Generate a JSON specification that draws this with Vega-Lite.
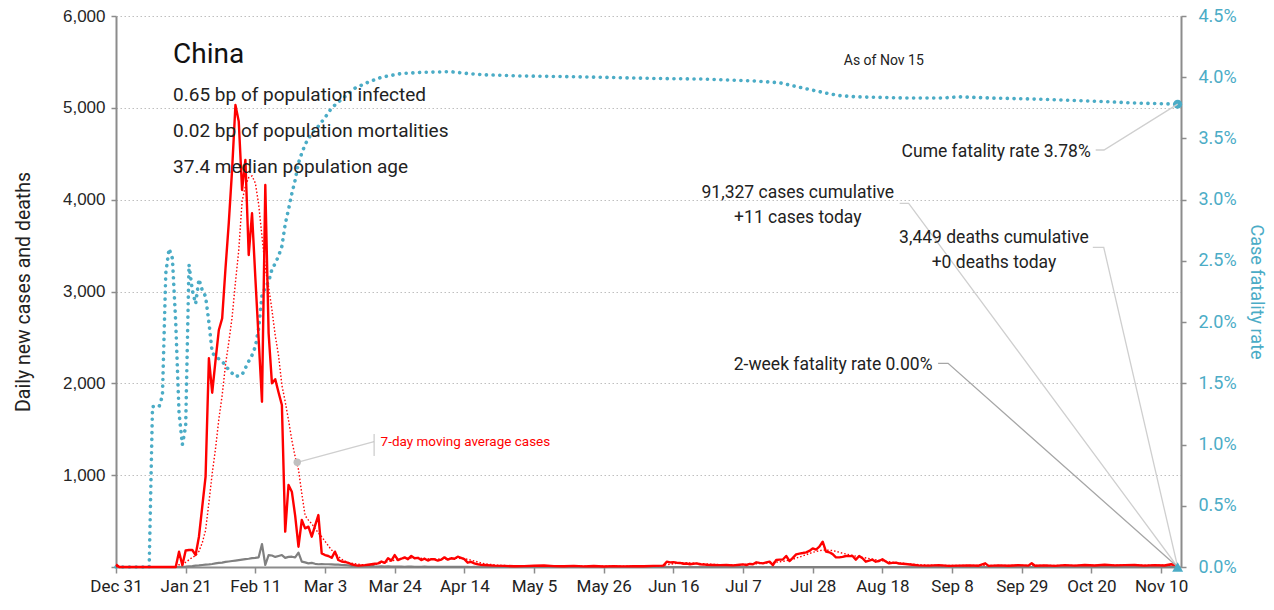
{
"$schema": "https://vega.github.io/schema/vega-lite/v6.json",
"width": 1065, "height": 551,
"autosize": {"type": "none"},
"padding": {"left": 116, "top": 16, "right": 93, "bottom": 43},
"background": "white",
"config": {"view": {"stroke": null}},
"datasets": {
"cfr": [
{"date":"2019-12-31","cfr":0},{"date":"2020-01-10","cfr":0},{"date":"2020-01-11","cfr":0.0131},{"date":"2020-01-13","cfr":0.0131},
{"date":"2020-01-14","cfr":0.014},{"date":"2020-01-15","cfr":0.024},{"date":"2020-01-16","cfr":0.026},{"date":"2020-01-17","cfr":0.0252},
{"date":"2020-01-18","cfr":0.02},{"date":"2020-01-19","cfr":0.0126},{"date":"2020-01-20","cfr":0.01},{"date":"2020-01-21","cfr":0.0115},
{"date":"2020-01-22","cfr":0.0247},{"date":"2020-01-23","cfr":0.0226},{"date":"2020-01-24","cfr":0.0215},{"date":"2020-01-25","cfr":0.0235},
{"date":"2020-01-26","cfr":0.0226},{"date":"2020-01-27","cfr":0.0221},{"date":"2020-01-28","cfr":0.02},{"date":"2020-01-29","cfr":0.0175},
{"date":"2020-01-30","cfr":0.0172},{"date":"2020-01-31","cfr":0.017},{"date":"2020-02-01","cfr":0.0168},{"date":"2020-02-03","cfr":0.0161},
{"date":"2020-02-05","cfr":0.01555},{"date":"2020-02-07","cfr":0.0157},{"date":"2020-02-09","cfr":0.0168},{"date":"2020-02-10","cfr":0.0173},
{"date":"2020-02-11","cfr":0.018},{"date":"2020-02-12","cfr":0.0195},{"date":"2020-02-13","cfr":0.0222},{"date":"2020-02-14","cfr":0.0228},
{"date":"2020-02-15","cfr":0.0233},{"date":"2020-02-16","cfr":0.0243},{"date":"2020-02-17","cfr":0.0248},{"date":"2020-02-18","cfr":0.0254},
{"date":"2020-02-19","cfr":0.0262},{"date":"2020-02-20","cfr":0.028},{"date":"2020-02-21","cfr":0.0292},{"date":"2020-02-22","cfr":0.0305},
{"date":"2020-02-23","cfr":0.0316},{"date":"2020-02-24","cfr":0.033},{"date":"2020-02-25","cfr":0.0338},{"date":"2020-02-26","cfr":0.0345},
{"date":"2020-02-27","cfr":0.035},{"date":"2020-02-28","cfr":0.0354},{"date":"2020-03-01","cfr":0.036},{"date":"2020-03-03","cfr":0.0367},
{"date":"2020-03-05","cfr":0.0375},{"date":"2020-03-08","cfr":0.0382},{"date":"2020-03-12","cfr":0.0391},{"date":"2020-03-16","cfr":0.0396},
{"date":"2020-03-20","cfr":0.04},{"date":"2020-03-26","cfr":0.0403},{"date":"2020-04-01","cfr":0.0404},{"date":"2020-04-10","cfr":0.04045},
{"date":"2020-04-15","cfr":0.0403},{"date":"2020-04-20","cfr":0.0402},{"date":"2020-05-01","cfr":0.0401},{"date":"2020-05-15","cfr":0.04005},
{"date":"2020-05-25","cfr":0.04},{"date":"2020-06-10","cfr":0.0399},{"date":"2020-06-25","cfr":0.03985},{"date":"2020-07-10","cfr":0.0397},
{"date":"2020-07-18","cfr":0.03955},{"date":"2020-07-22","cfr":0.0393},{"date":"2020-07-27","cfr":0.039},{"date":"2020-08-01","cfr":0.0387},
{"date":"2020-08-05","cfr":0.0385},{"date":"2020-08-10","cfr":0.0384},{"date":"2020-08-25","cfr":0.0383},{"date":"2020-09-05","cfr":0.0383},
{"date":"2020-09-10","cfr":0.0384},{"date":"2020-09-20","cfr":0.0383},{"date":"2020-10-05","cfr":0.0382},{"date":"2020-10-15","cfr":0.0381},
{"date":"2020-10-25","cfr":0.038},{"date":"2020-11-01","cfr":0.0379},{"date":"2020-11-08","cfr":0.03785},{"date":"2020-11-15","cfr":0.0378}
],
"daily": [
{"date":"2019-12-31","cases":27,"deaths":0},{"date":"2020-01-01","cases":0,"deaths":0},{"date":"2020-01-10","cases":0,"deaths":0},{"date":"2020-01-18","cases":0,"deaths":0},
{"date":"2020-01-19","cases":167,"deaths":0},{"date":"2020-01-20","cases":20,"deaths":2},{"date":"2020-01-21","cases":180,"deaths":4},{"date":"2020-01-22","cases":185,"deaths":8},
{"date":"2020-01-23","cases":185,"deaths":10},{"date":"2020-01-24","cases":130,"deaths":15},{"date":"2020-01-25","cases":330,"deaths":18},{"date":"2020-01-26","cases":657,"deaths":22},
{"date":"2020-01-27","cases":983,"deaths":25},{"date":"2020-01-28","cases":2273,"deaths":28},{"date":"2020-01-29","cases":1898,"deaths":33},{"date":"2020-01-30","cases":2250,"deaths":40},
{"date":"2020-01-31","cases":2581,"deaths":45},{"date":"2020-02-01","cases":2708,"deaths":48},{"date":"2020-02-02","cases":3250,"deaths":55},{"date":"2020-02-03","cases":3750,"deaths":60},
{"date":"2020-02-04","cases":4330,"deaths":65},{"date":"2020-02-05","cases":5031,"deaths":70},{"date":"2020-02-06","cases":4850,"deaths":75},{"date":"2020-02-07","cases":4105,"deaths":80},
{"date":"2020-02-08","cases":4432,"deaths":85},{"date":"2020-02-09","cases":3397,"deaths":90},{"date":"2020-02-10","cases":3852,"deaths":97},{"date":"2020-02-11","cases":3150,"deaths":100},
{"date":"2020-02-12","cases":2480,"deaths":105},{"date":"2020-02-13","cases":1800,"deaths":250},{"date":"2020-02-14","cases":4160,"deaths":22},{"date":"2020-02-15","cases":2545,"deaths":130},
{"date":"2020-02-16","cases":2000,"deaths":125},{"date":"2020-02-17","cases":2044,"deaths":110},{"date":"2020-02-18","cases":1900,"deaths":120},{"date":"2020-02-19","cases":1764,"deaths":130},
{"date":"2020-02-20","cases":385,"deaths":100},{"date":"2020-02-21","cases":893,"deaths":110},{"date":"2020-02-22","cases":820,"deaths":112},{"date":"2020-02-23","cases":560,"deaths":105},
{"date":"2020-02-24","cases":221,"deaths":156},{"date":"2020-02-25","cases":512,"deaths":58},{"date":"2020-02-26","cases":421,"deaths":50},{"date":"2020-02-27","cases":439,"deaths":40},
{"date":"2020-02-28","cases":330,"deaths":45},{"date":"2020-02-29","cases":450,"deaths":35},{"date":"2020-03-01","cases":566,"deaths":30},{"date":"2020-03-02","cases":149,"deaths":32},
{"date":"2020-03-03","cases":130,"deaths":30},{"date":"2020-03-04","cases":120,"deaths":30},{"date":"2020-03-05","cases":100,"deaths":28},{"date":"2020-03-06","cases":167,"deaths":25},
{"date":"2020-03-07","cases":76,"deaths":25},{"date":"2020-03-08","cases":60,"deaths":22},{"date":"2020-03-09","cases":55,"deaths":20},{"date":"2020-03-10","cases":45,"deaths":17},
{"date":"2020-03-11","cases":30,"deaths":12},{"date":"2020-03-12","cases":20,"deaths":10},{"date":"2020-03-13","cases":15,"deaths":8},{"date":"2020-03-14","cases":18,"deaths":10},
{"date":"2020-03-15","cases":20,"deaths":12},{"date":"2020-03-16","cases":25,"deaths":10},{"date":"2020-03-17","cases":30,"deaths":12},{"date":"2020-03-18","cases":35,"deaths":8},
{"date":"2020-03-19","cases":40,"deaths":5},{"date":"2020-03-20","cases":60,"deaths":6},{"date":"2020-03-21","cases":45,"deaths":5},{"date":"2020-03-22","cases":95,"deaths":6},
{"date":"2020-03-23","cases":70,"deaths":5},{"date":"2020-03-24","cases":130,"deaths":4},{"date":"2020-03-25","cases":76,"deaths":5},{"date":"2020-03-26","cases":90,"deaths":4},
{"date":"2020-03-27","cases":105,"deaths":3},{"date":"2020-03-28","cases":85,"deaths":5},{"date":"2020-03-29","cases":120,"deaths":4},{"date":"2020-03-30","cases":95,"deaths":3},
{"date":"2020-03-31","cases":100,"deaths":2},{"date":"2020-04-01","cases":76,"deaths":3},{"date":"2020-04-02","cases":90,"deaths":4},{"date":"2020-04-03","cases":70,"deaths":2},
{"date":"2020-04-04","cases":85,"deaths":3},{"date":"2020-04-05","cases":84,"deaths":2},{"date":"2020-04-06","cases":70,"deaths":1},{"date":"2020-04-07","cases":80,"deaths":2},
{"date":"2020-04-08","cases":105,"deaths":1},{"date":"2020-04-09","cases":80,"deaths":2},{"date":"2020-04-10","cases":95,"deaths":1},{"date":"2020-04-11","cases":90,"deaths":2},
{"date":"2020-04-12","cases":112,"deaths":1},{"date":"2020-04-13","cases":100,"deaths":2},{"date":"2020-04-14","cases":85,"deaths":1},{"date":"2020-04-15","cases":47,"deaths":1},
{"date":"2020-04-16","cases":55,"deaths":0},{"date":"2020-04-17","cases":40,"deaths":1},{"date":"2020-04-18","cases":30,"deaths":0},{"date":"2020-04-19","cases":25,"deaths":0},
{"date":"2020-04-20","cases":22,"deaths":0},{"date":"2020-04-23","cases":15,"deaths":0},{"date":"2020-04-26","cases":12,"deaths":0},{"date":"2020-04-29","cases":8,"deaths":0},
{"date":"2020-05-02","cases":10,"deaths":0},{"date":"2020-05-05","cases":14,"deaths":0},{"date":"2020-05-08","cases":16,"deaths":0},{"date":"2020-05-11","cases":10,"deaths":0},
{"date":"2020-05-14","cases":8,"deaths":0},{"date":"2020-05-17","cases":12,"deaths":0},{"date":"2020-05-20","cases":7,"deaths":0},{"date":"2020-05-23","cases":11,"deaths":0},
{"date":"2020-05-26","cases":6,"deaths":0},{"date":"2020-05-29","cases":9,"deaths":0},{"date":"2020-06-01","cases":7,"deaths":0},{"date":"2020-06-04","cases":10,"deaths":0},
{"date":"2020-06-07","cases":8,"deaths":0},{"date":"2020-06-10","cases":12,"deaths":0},{"date":"2020-06-13","cases":15,"deaths":0},{"date":"2020-06-14","cases":58,"deaths":0},
{"date":"2020-06-15","cases":50,"deaths":0},{"date":"2020-06-16","cases":52,"deaths":0},{"date":"2020-06-17","cases":47,"deaths":0},{"date":"2020-06-18","cases":44,"deaths":0},
{"date":"2020-06-19","cases":35,"deaths":0},{"date":"2020-06-20","cases":38,"deaths":0},{"date":"2020-06-21","cases":30,"deaths":0},{"date":"2020-06-22","cases":35,"deaths":0},
{"date":"2020-06-23","cases":40,"deaths":0},{"date":"2020-06-24","cases":30,"deaths":0},{"date":"2020-06-25","cases":28,"deaths":0},{"date":"2020-06-26","cases":25,"deaths":0},
{"date":"2020-06-28","cases":22,"deaths":0},{"date":"2020-06-30","cases":20,"deaths":0},{"date":"2020-07-02","cases":22,"deaths":0},{"date":"2020-07-04","cases":18,"deaths":0},
{"date":"2020-07-06","cases":25,"deaths":0},{"date":"2020-07-07","cases":28,"deaths":0},{"date":"2020-07-08","cases":22,"deaths":0},{"date":"2020-07-09","cases":33,"deaths":0},
{"date":"2020-07-10","cases":30,"deaths":0},{"date":"2020-07-11","cases":51,"deaths":0},{"date":"2020-07-12","cases":45,"deaths":0},{"date":"2020-07-13","cases":40,"deaths":0},
{"date":"2020-07-14","cases":50,"deaths":0},{"date":"2020-07-15","cases":58,"deaths":0},{"date":"2020-07-16","cases":20,"deaths":0},{"date":"2020-07-17","cases":76,"deaths":0},
{"date":"2020-07-18","cases":80,"deaths":0},{"date":"2020-07-19","cases":82,"deaths":0},{"date":"2020-07-20","cases":120,"deaths":0},{"date":"2020-07-21","cases":65,"deaths":0},
{"date":"2020-07-22","cases":100,"deaths":0},{"date":"2020-07-23","cases":138,"deaths":0},{"date":"2020-07-24","cases":145,"deaths":0},{"date":"2020-07-25","cases":152,"deaths":0},
{"date":"2020-07-26","cases":160,"deaths":0},{"date":"2020-07-27","cases":175,"deaths":0},{"date":"2020-07-28","cases":203,"deaths":0},{"date":"2020-07-29","cases":190,"deaths":0},
{"date":"2020-07-30","cases":221,"deaths":0},{"date":"2020-07-31","cases":276,"deaths":0},{"date":"2020-08-01","cases":167,"deaths":0},{"date":"2020-08-02","cases":160,"deaths":0},
{"date":"2020-08-03","cases":140,"deaths":0},{"date":"2020-08-04","cases":105,"deaths":0},{"date":"2020-08-05","cases":105,"deaths":0},{"date":"2020-08-06","cases":110,"deaths":0},
{"date":"2020-08-07","cases":120,"deaths":0},{"date":"2020-08-08","cases":118,"deaths":0},{"date":"2020-08-09","cases":120,"deaths":0},{"date":"2020-08-10","cases":80,"deaths":0},
{"date":"2020-08-11","cases":120,"deaths":0},{"date":"2020-08-12","cases":95,"deaths":0},{"date":"2020-08-13","cases":58,"deaths":0},{"date":"2020-08-14","cases":70,"deaths":0},
{"date":"2020-08-15","cases":80,"deaths":0},{"date":"2020-08-16","cases":58,"deaths":0},{"date":"2020-08-17","cases":65,"deaths":0},{"date":"2020-08-18","cases":84,"deaths":0},
{"date":"2020-08-19","cases":60,"deaths":0},{"date":"2020-08-20","cases":40,"deaths":0},{"date":"2020-08-21","cases":45,"deaths":0},{"date":"2020-08-22","cases":47,"deaths":0},
{"date":"2020-08-23","cases":38,"deaths":0},{"date":"2020-08-25","cases":33,"deaths":0},{"date":"2020-08-27","cases":25,"deaths":0},{"date":"2020-08-29","cases":18,"deaths":0},
{"date":"2020-09-01","cases":15,"deaths":0},{"date":"2020-09-04","cases":20,"deaths":0},{"date":"2020-09-07","cases":12,"deaths":0},{"date":"2020-09-10","cases":15,"deaths":0},
{"date":"2020-09-13","cases":18,"deaths":0},{"date":"2020-09-16","cases":14,"deaths":0},{"date":"2020-09-18","cases":40,"deaths":0},{"date":"2020-09-19","cases":12,"deaths":0},
{"date":"2020-09-22","cases":18,"deaths":0},{"date":"2020-09-25","cases":14,"deaths":0},{"date":"2020-09-28","cases":20,"deaths":0},{"date":"2020-10-01","cases":15,"deaths":0},
{"date":"2020-10-02","cases":40,"deaths":0},{"date":"2020-10-03","cases":14,"deaths":0},{"date":"2020-10-06","cases":18,"deaths":0},{"date":"2020-10-09","cases":12,"deaths":0},
{"date":"2020-10-12","cases":20,"deaths":0},{"date":"2020-10-15","cases":15,"deaths":0},{"date":"2020-10-18","cases":22,"deaths":0},{"date":"2020-10-21","cases":17,"deaths":0},
{"date":"2020-10-24","cases":25,"deaths":0},{"date":"2020-10-27","cases":18,"deaths":0},{"date":"2020-10-30","cases":20,"deaths":0},{"date":"2020-11-02","cases":22,"deaths":0},
{"date":"2020-11-05","cases":15,"deaths":0},{"date":"2020-11-08","cases":20,"deaths":0},{"date":"2020-11-11","cases":16,"deaths":0},{"date":"2020-11-13","cases":30,"deaths":0},
{"date":"2020-11-14","cases":25,"deaths":0},{"date":"2020-11-15","cases":11,"deaths":0}
],
"avg": [
{"date":"2019-12-31","avg":4},{"date":"2020-01-06","avg":4},{"date":"2020-01-07","avg":0},{"date":"2020-01-18","avg":0},
{"date":"2020-01-19","avg":24},{"date":"2020-01-20","avg":27},{"date":"2020-01-21","avg":52},{"date":"2020-01-22","avg":78},
{"date":"2020-01-23","avg":105},{"date":"2020-01-24","avg":124},{"date":"2020-01-25","avg":170},{"date":"2020-01-26","avg":263},
{"date":"2020-01-27","avg":400},{"date":"2020-01-28","avg":700},{"date":"2020-01-29","avg":1020},{"date":"2020-01-30","avg":1290},
{"date":"2020-01-31","avg":1610},{"date":"2020-02-01","avg":1870},{"date":"2020-02-02","avg":2200},{"date":"2020-02-03","avg":2450},
{"date":"2020-02-04","avg":2720},{"date":"2020-02-05","avg":3100},{"date":"2020-02-06","avg":3450},{"date":"2020-02-07","avg":3980},
{"date":"2020-02-08","avg":4150},{"date":"2020-02-09","avg":4240},{"date":"2020-02-10","avg":4258},{"date":"2020-02-11","avg":4180},
{"date":"2020-02-12","avg":3950},{"date":"2020-02-13","avg":3600},{"date":"2020-02-14","avg":3250},{"date":"2020-02-15","avg":3050},
{"date":"2020-02-16","avg":2800},{"date":"2020-02-17","avg":2520},{"date":"2020-02-18","avg":2300},{"date":"2020-02-19","avg":1980},
{"date":"2020-02-20","avg":1800},{"date":"2020-02-21","avg":1600},{"date":"2020-02-22","avg":1380},{"date":"2020-02-23","avg":1200},
{"date":"2020-02-24","avg":1060},{"date":"2020-02-25","avg":800},{"date":"2020-02-26","avg":560},{"date":"2020-02-27","avg":510},
{"date":"2020-02-28","avg":470},{"date":"2020-02-29","avg":420},{"date":"2020-03-01","avg":370},{"date":"2020-03-02","avg":330},
{"date":"2020-03-03","avg":280},{"date":"2020-03-04","avg":230},{"date":"2020-03-05","avg":185},{"date":"2020-03-06","avg":150},
{"date":"2020-03-07","avg":115},{"date":"2020-03-08","avg":85},{"date":"2020-03-09","avg":65},{"date":"2020-03-10","avg":50},
{"date":"2020-03-12","avg":35},{"date":"2020-03-15","avg":22},{"date":"2020-03-18","avg":28},{"date":"2020-03-21","avg":50},
{"date":"2020-03-24","avg":75},{"date":"2020-03-27","avg":95},{"date":"2020-03-30","avg":100},{"date":"2020-04-02","avg":92},
{"date":"2020-04-05","avg":85},{"date":"2020-04-08","avg":88},{"date":"2020-04-11","avg":95},{"date":"2020-04-14","avg":92},
{"date":"2020-04-17","avg":65},{"date":"2020-04-20","avg":35},{"date":"2020-04-24","avg":20},{"date":"2020-04-28","avg":13},
{"date":"2020-05-05","avg":12},{"date":"2020-05-15","avg":10},{"date":"2020-05-25","avg":9},{"date":"2020-06-05","avg":9},
{"date":"2020-06-12","avg":12},{"date":"2020-06-15","avg":30},{"date":"2020-06-18","avg":47},{"date":"2020-06-21","avg":44},
{"date":"2020-06-25","avg":35},{"date":"2020-06-30","avg":25},{"date":"2020-07-05","avg":23},{"date":"2020-07-10","avg":32},
{"date":"2020-07-15","avg":45},{"date":"2020-07-19","avg":60},{"date":"2020-07-22","avg":85},{"date":"2020-07-25","avg":120},
{"date":"2020-07-28","avg":160},{"date":"2020-07-31","avg":185},{"date":"2020-08-03","avg":180},{"date":"2020-08-06","avg":150},
{"date":"2020-08-09","avg":125},{"date":"2020-08-12","avg":105},{"date":"2020-08-15","avg":85},{"date":"2020-08-18","avg":68},
{"date":"2020-08-21","avg":52},{"date":"2020-08-25","avg":38},{"date":"2020-08-30","avg":22},{"date":"2020-09-05","avg":16},
{"date":"2020-09-20","avg":18},{"date":"2020-10-05","avg":17},{"date":"2020-10-20","avg":18},{"date":"2020-11-05","avg":19},
{"date":"2020-11-15","avg":20}
],
"cfrEnd": [{"date":"2020-11-15","cfr":0.0378}],
"endTriangle": [{"date":"2020-11-15","value":0}],
"titleText": [{"date":"2020-01-17T05:00:00Z","value":5570,"text":"China"}],
"infoText": [
{"date":"2020-01-17T05:00:00Z","value":5137,"text":"0.65 bp of population infected"},
{"date":"2020-01-17T05:00:00Z","value":4745,"text":"0.02 bp of population mortalities"},
{"date":"2020-01-17T05:00:00Z","value":4358,"text":"37.4 median population age"}
],
"asOf": [{"date":"2020-08-18T10:00:00Z","value":5510,"text":"As of Nov 15"}],
"rightText": [
{"date":"2020-10-19T19:00:00Z","value":4519,"text":"Cume fatality rate 3.78%"},
{"date":"2020-09-02T02:00:00Z","value":2200,"text":"2-week fatality rate 0.00%"}
],
"centerText": [
{"date":"2020-07-23T12:00:00Z","value":4073,"text":"91,327 cases cumulative"},
{"date":"2020-07-23T12:00:00Z","value":3800,"text":"+11 cases today"},
{"date":"2020-09-20T15:00:00Z","value":3583,"text":"3,449 deaths cumulative"},
{"date":"2020-09-20T15:00:00Z","value":3310,"text":"+0 deaths today"}
],
"redText": [{"date":"2020-03-19T18:00:00Z","value":1357,"text":"7-day moving average cases"}],
"redTick": [{"date":"2020-03-17T19:00:00Z","value":1448,"value2":1209}],
"maDot": [{"date":"2020-02-23T15:00:00Z","value":1140}],
"leadersLight": [
{"id":"cume","date":"2020-10-21T07:00:00Z","value":4541},
{"id":"cume","date":"2020-10-23T19:00:00Z","value":4541},
{"id":"cume","date":"2020-11-15","value":5040},
{"id":"cases","date":"2020-08-23T05:00:00Z","value":3960},
{"id":"cases","date":"2020-08-25T22:00:00Z","value":3960},
{"id":"cases","date":"2020-11-15","value":0},
{"id":"deaths","date":"2020-10-20T10:00:00Z","value":3481},
{"id":"deaths","date":"2020-10-23T17:00:00Z","value":3481},
{"id":"deaths","date":"2020-11-15","value":0},
{"id":"ma","date":"2020-02-23T15:00:00Z","value":1140},
{"id":"ma","date":"2020-03-17T19:00:00Z","value":1364}
],
"leaderDark": [
{"id":"fr","date":"2020-09-03T19:00:00Z","value":2218},
{"id":"fr","date":"2020-09-06T19:00:00Z","value":2218},
{"id":"fr","date":"2020-11-15","value":0}
]
},
"encoding": {
"x": {"field": "date", "type": "temporal", "scale": {"type": "utc", "domain": [1577750400000, 1605484800000]},
"axis": {"orient": "bottom",
"values": [
{"year":2019,"month":12,"date":31,"utc":true},{"year":2020,"month":1,"date":21,"utc":true},{"year":2020,"month":2,"date":11,"utc":true},{"year":2020,"month":3,"date":3,"utc":true},
{"year":2020,"month":3,"date":24,"utc":true},{"year":2020,"month":4,"date":14,"utc":true},{"year":2020,"month":5,"date":5,"utc":true},{"year":2020,"month":5,"date":26,"utc":true},
{"year":2020,"month":6,"date":16,"utc":true},{"year":2020,"month":7,"date":7,"utc":true},{"year":2020,"month":7,"date":28,"utc":true},{"year":2020,"month":8,"date":18,"utc":true},
{"year":2020,"month":9,"date":8,"utc":true},{"year":2020,"month":9,"date":29,"utc":true},{"year":2020,"month":10,"date":20,"utc":true},{"year":2020,"month":11,"date":10,"utc":true}],
"format": "%b %-d", "title": null, "grid": false, "labelOverlap": false, "labelFlush": false,
"domainColor": "#8c8c8c", "domainWidth": 2, "tickColor": "#8c8c8c", "tickSize": 6, "tickWidth": 1.5,
"labelFont": "Roboto", "labelFontSize": 17, "labelColor": "#222222", "labelPadding": 5}}
},
"layer": [
{
"data": {"name": "cfr"},
"mark": {"type": "line", "color": "#4bacc6", "strokeWidth": 3.6, "strokeDash": [0.1, 6.6], "strokeCap": "round"},
"encoding": {
"y": {"field": "cfr", "type": "quantitative", "scale": {"domain": [0, 0.045], "nice": false},
"axis": {"orient": "right", "values": [0,0.005,0.01,0.015,0.02,0.025,0.03,0.035,0.04,0.045], "format": ".1%",
"title": "Case fatality rate", "grid": false,
"domainColor": "#8c8c8c", "domainWidth": 2, "tickColor": "#8c8c8c", "tickSize": 5, "tickWidth": 1.5,
"labelFont": "Roboto", "labelFontSize": 18, "labelColor": "#4bacc6", "labelPadding": 12,
"titleFont": "Roboto", "titleFontSize": 18, "titleFontWeight": "normal", "titleColor": "#4bacc6", "titlePadding": 10}}
}
},
{
"data": {"name": "cfrEnd"},
"mark": {"type": "point", "filled": true, "color": "#4bacc6", "size": 80, "opacity": 1},
"encoding": {
"y": {"field": "cfr", "type": "quantitative", "scale": {"domain": [0, 0.045], "nice": false}, "axis": null}
}
},
{
"data": {"name": "daily"},
"mark": {"type": "line", "color": "#808080", "strokeWidth": 2.2, "strokeJoin": "round"},
"encoding": {
"y": {"field": "deaths", "type": "quantitative", "scale": {"domain": [0, 6000], "nice": false},
"axis": {"orient": "left", "values": [0,1000,2000,3000,4000,5000,6000], "labelExpr": "datum.value == 0 ? '' : format(datum.value, ',')",
"title": "Daily new cases and deaths", "grid": true, "gridColor": "#bfbfbf", "gridDash": [1.5, 2.5], "gridWidth": 1.2,
"domainColor": "#8c8c8c", "domainWidth": 2, "tickColor": "#8c8c8c", "tickSize": 5, "tickWidth": 1.5,
"labelFont": "Liberation Sans", "labelFontSize": 17, "labelColor": "#262626", "labelPadding": 6,
"titleFont": "Roboto", "titleFontSize": 19.5, "titleFontWeight": "normal", "titleColor": "#222222", "titlePadding": 29}}
}
},
{
"data": {"name": "daily"},
"mark": {"type": "line", "color": "#ff0000", "strokeWidth": 2.4, "strokeJoin": "round"},
"encoding": {
"y": {"field": "cases", "type": "quantitative", "scale": {"domain": [0, 6000], "nice": false}, "axis": null}
}
},
{
"data": {"name": "avg"},
"mark": {"type": "line", "color": "#ff0000", "strokeWidth": 1.4, "strokeDash": [1.5, 2]},
"encoding": {
"y": {"field": "avg", "type": "quantitative", "scale": {"domain": [0, 6000], "nice": false}, "axis": null}
}
},
{
"data": {"name": "leadersLight"},
"mark": {"type": "line", "color": "#cfcfcf", "strokeWidth": 1.3},
"encoding": {
"y": {"field": "value", "type": "quantitative", "scale": {"domain": [0, 6000], "nice": false}, "axis": null},
"detail": {"field": "id"}
}
},
{
"data": {"name": "leaderDark"},
"mark": {"type": "line", "color": "#a6a6a6", "strokeWidth": 1.3},
"encoding": {
"y": {"field": "value", "type": "quantitative", "scale": {"domain": [0, 6000], "nice": false}, "axis": null},
"detail": {"field": "id"}
}
},
{
"data": {"name": "redTick"},
"mark": {"type": "rule", "color": "#bfbfbf", "strokeWidth": 1},
"encoding": {
"y": {"field": "value", "type": "quantitative", "scale": {"domain": [0, 6000], "nice": false}, "axis": null},
"y2": {"field": "value2"}
}
},
{
"data": {"name": "maDot"},
"mark": {"type": "point", "filled": true, "color": "#c0c0c0", "size": 55, "opacity": 1},
"encoding": {
"y": {"field": "value", "type": "quantitative", "scale": {"domain": [0, 6000], "nice": false}, "axis": null}
}
},
{
"data": {"name": "endTriangle"},
"mark": {"type": "point", "shape": "triangle-up", "filled": true, "color": "#4bacc6", "size": 120, "opacity": 1},
"encoding": {
"y": {"field": "value", "type": "quantitative", "scale": {"domain": [0, 6000], "nice": false}, "axis": null}
}
},
{
"data": {"name": "titleText"},
"mark": {"type": "text", "align": "left", "baseline": "middle", "fontSize": 28, "color": "#111111", "font": "Roboto"},
"encoding": {
"y": {"field": "value", "type": "quantitative", "scale": {"domain": [0, 6000], "nice": false}, "axis": null},
"text": {"field": "text"}
}
},
{
"data": {"name": "infoText"},
"mark": {"type": "text", "align": "left", "baseline": "middle", "fontSize": 19, "color": "#222222", "font": "Roboto"},
"encoding": {
"y": {"field": "value", "type": "quantitative", "scale": {"domain": [0, 6000], "nice": false}, "axis": null},
"text": {"field": "text"}
}
},
{
"data": {"name": "asOf"},
"mark": {"type": "text", "align": "center", "baseline": "middle", "fontSize": 14, "color": "#222222", "font": "Roboto"},
"encoding": {
"y": {"field": "value", "type": "quantitative", "scale": {"domain": [0, 6000], "nice": false}, "axis": null},
"text": {"field": "text"}
}
},
{
"data": {"name": "rightText"},
"mark": {"type": "text", "align": "right", "baseline": "middle", "fontSize": 17.5, "color": "#222222", "font": "Roboto"},
"encoding": {
"y": {"field": "value", "type": "quantitative", "scale": {"domain": [0, 6000], "nice": false}, "axis": null},
"text": {"field": "text"}
}
},
{
"data": {"name": "centerText"},
"mark": {"type": "text", "align": "center", "baseline": "middle", "fontSize": 17.5, "color": "#222222", "font": "Roboto"},
"encoding": {
"y": {"field": "value", "type": "quantitative", "scale": {"domain": [0, 6000], "nice": false}, "axis": null},
"text": {"field": "text"}
}
},
{
"data": {"name": "redText"},
"mark": {"type": "text", "align": "left", "baseline": "middle", "fontSize": 13.5, "color": "#ff0000", "font": "Roboto"},
"encoding": {
"y": {"field": "value", "type": "quantitative", "scale": {"domain": [0, 6000], "nice": false}, "axis": null},
"text": {"field": "text"}
}
}
],
"resolve": {"scale": {"y": "independent"}}
}
